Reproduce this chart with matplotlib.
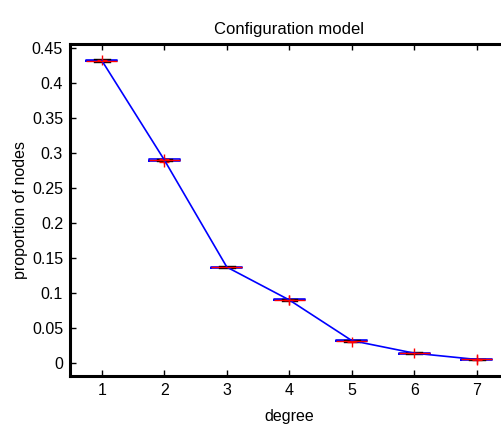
import matplotlib
matplotlib.use('Agg')
import matplotlib.pyplot as plt

# data
degrees = [1, 2, 3, 4, 5, 6, 7]
medians = [0.432, 0.290, 0.137, 0.090, 0.032, 0.014, 0.005]
q_low = [0.4310, 0.2890, 0.1360, 0.0893, 0.0313, 0.0134, 0.0046]
q_high = [0.4328, 0.2908, 0.1378, 0.0907, 0.0327, 0.0146, 0.0054]
whisk_low = [0.4300, 0.2880, 0.1352, 0.0885, 0.0305, 0.0128, 0.0040]
whisk_high = [0.4336, 0.2916, 0.1388, 0.0915, 0.0335, 0.0152, 0.0060]
outliers = [[0.4335], [0.2875, 0.2920], [], [0.0900, 0.0895], [0.0298], [0.0140], [0.0045, 0.0050]]

plt.rcParams['font.family'] = ['Liberation Sans', 'DejaVu Sans']
plt.rcParams['font.size'] = 11.5

fig = plt.figure(figsize=(5.01, 4.28), dpi=100)
ax = fig.add_axes([70 / 501, 52 / 428, 438 / 501, 332 / 428])

stats = []
for i in range(len(degrees)):
    stats.append(dict(med=medians[i], q1=q_low[i], q3=q_high[i],
                      whislo=whisk_low[i], whishi=whisk_high[i],
                      fliers=outliers[i]))

ax.bxp(stats, positions=degrees, widths=0.5, capwidths=0.25,
       boxprops=dict(color='blue', linewidth=1.2),
       medianprops=dict(color='red', linewidth=1),
       whiskerprops=dict(color='black', linestyle='--', linewidth=0.8),
       capprops=dict(color='black', linewidth=1),
       flierprops=dict(marker='+', markeredgecolor='red', markersize=7))

ax.plot(degrees, medians, color='blue', linewidth=1.2)

ax.set_xlim(0.49, 7.5)
ax.set_ylim(-0.0186, 0.4557)
ax.set_xticks(degrees)
ax.set_xticklabels([str(d) for d in degrees])
ax.set_yticks([0, 0.05, 0.1, 0.15, 0.2, 0.25, 0.3, 0.35, 0.4, 0.45])
ax.set_yticklabels(['0', '0.05', '0.1', '0.15', '0.2', '0.25', '0.3', '0.35', '0.4', '0.45'])
ax.tick_params(direction='in', length=4, width=1, top=True, right=True, pad=5)
for s in ax.spines.values():
    s.set_linewidth(2.2)

ax.set_title('Configuration model', fontsize=12, pad=7)
ax.set_xlabel('degree', labelpad=8)
ax.set_ylabel('proportion of nodes', labelpad=3)

fig.savefig('out.png', dpi=100)
